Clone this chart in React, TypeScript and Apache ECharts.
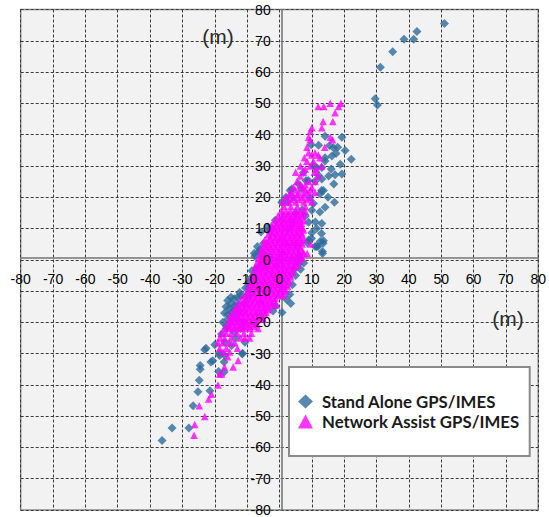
import React, { useEffect, useRef } from "react";
import * as echarts from "echarts";

const AXIS_MIN = -80;
const AXIS_MAX = 80;
const AXIS_STEP = 10;

const seriesNames = ["Stand Alone GPS/IMES", "Network Assist GPS/IMES"];

// Stand Alone GPS/IMES (x, y) in metres
const standAlone: [number, number][] = [
  [51, 75.5], [42.5, 73], [41.5, 70.5], [38.5, 70.5], [35, 66.5], [31.2, 61.5], [29.6, 51.5], [30.3, 49.5],
  [19.3, 39.2], [14.1, 39.5], [9.8, 36.8], [12.1, 36.6], [16.7, 35.8], [18, 36], [20.3, 34.9], [22.2, 32.1],
  [16.2, 33.2], [14.1, 31.6], [13.1, 29.5], [18.8, 30.5], [19.3, 27.4], [17.2, 27.2], [15.2, 26.8], [16.8, 24.2],
  [13.1, 25.8], [11, 25.1], [7.4, 27.9], [8.2, 25.3], [5.9, 24.2], [3.8, 22.6], [13.6, 22.1], [12.6, 21.1],
  [17, 18.4], [14.1, 16.8], [10, 15.8], [13.1, 11.6], [11.5, 10], [10, 8.6], [12.6, 5.8], [13.3, 2.6],
  [11, 4.2], [9, 6.3], [-1.3, 12.6], [-3.4, 9.5], [-6, 3.2], [-4.9, 5.3], [0.7, 18.4], [2, 20], [3.3, 22.1],
  [2.6, 18.4], [4.2, 20], [6.8, 22.6], [8.9, 25.3], [11.5, 29.5], [14.1, 32.6], [13, 22.1], [12.5, 15.3],
  [11.1, 12.1], [13, 8.4], [13.5, 5.3], [11.5, 4.2], [9.9, 6.8], [-5.7, 8.9], [-3.6, 10.5], [-2.1, 10],
  [-6.8, 4.2], [-7.8, 2.1], [-5.2, 1.1], [8.6, 5.4], [11.9, 4.2], [13.3, 2], [13.6, 6.1], [4.9, 4.7],
  [-6.4, 2.5], [-5.3, -1], [15.5, 36.5], [17.5, 34], [10.5, 30], [12, 27], [9.5, 20], [10.5, 18], [8, 14],
  [9, 12], [7, 16], [15, 20], [16, 29],
  [-36.3, -57.8], [-33.2, -53.8], [-28, -53.8], [-26.7, -46.7], [-25.2, -42.2], [-24.8, -38.5], [-24.5, -35],
  [-24.5, -33.8], [-21.5, -41.9], [-21.2, -32.7], [-23.1, -28.8], [-20, -27.2], [-18.8, -35.7], [-17.1, -35.9],
  [-17.1, -32.7], [-18.5, -30.6], [-16.9, -30.6], [-11.5, -30.1], [-17.9, -23.7], [-16.4, -21.1], [-15.9, -17.4],
  [-14.8, -16.9], [-13.8, -14.8], [-12.8, -14.2], [-14.3, -18.5], [-16.9, -26.4], [-14.8, -27.4], [-10.7, -26.4],
  [-12.3, -10.5], [-9.7, -7.4], [-7.6, -5.8], [-7.1, -2.6], [-7.6, 1.1], [-12.8, -16.9], [-22.7, -28.3],
  [-20.6, -32.3], [-18.6, -29.9], [-11.4, -29.9], [-9.4, -9], [-7.9, -5.4], [-4.8, -1.3], [0.8, -16.9],
  [-1.2, -14.8], [5.9, -1.3],
  [-16, -13], [-15, -12], [-14, -12.5], [-13, -12], [-12, -11.5], [-16.5, -15], [-15.5, -15.5], [-17, -17],
  [-16, -19], [-15, -20], [-17.5, -20], [-16.5, -22], [-14, -23], [-13, -19], [-11.5, -17], [-11, -14],
  [-10.5, -12], [-9.5, -11], [-11, -20], [-12, -22], [-13.5, -25], [-15, -14], [-14, -16], [-10.5, -9],
  [-8.5, -3.5], [-9, -6],
  [3.2, -11.1], [2.2, -12.7], [4, -8], [5, -5], [6.5, -3], [4.5, -3], [3.5, -14], [-2, -16.4], [6, 0.5], [7.5, -1],
  [0, 0], [2, 5], [-2, -5], [3, 10], [-4, -10], [1, 2], [-1, -2], [4, 12], [-6, -14], [5, 15],
];

// Network Assist GPS/IMES, rows of [y, x values]
const networkRows: [number, number[]][] = [
  [50, [15.7, 19]],
  [49, [12, 13.7, 18.3]],
  [47, [17.2]],
  [44.2, [13.5, 16.5]],
  [42.2, [10, 13.1]],
  [41, [9.5]],
  [39.2, [9, 15.7]],
  [38.4, [9.5, 16.4]],
  [36, [8.5, 14]],
  [34.2, [9, 11]],
  [33.5, [10, 12]],
  [32.6, [7.7, 12.5]],
  [31.5, [8.5, 10.5]],
  [30, [6.5, 9.5, 13]],
  [29, [8, 11.5]],
  [28, [5, 7.4, 10.8]],
  [26.8, [6.4, 12]],
  [25, [5.4, 9, 11]],
  [24, [6.5, 8]],
  [23.2, [4.3, 7, 10]],
  [22.3, [5, 8, 9.5]],
  [21.5, [3.5, 6, 8.5, 11]],
  [20.8, [3, 5.5, 7.5]],
  [20, [2, 4.5, 7, 9.5]],
  [19.3, [3.5, 6, 8.5]],
  [18.5, [1, 2.8, 5, 7.5, 10]],
  [17, [1.5, 3.5, 5.5, 8]],
  [15.5, [0.5, 2, 3.5, 5, 6.5, 8]],
  [14.7, [1.2, 2.8, 4.3, 5.8, 7.3]],
  [14, [-0.5, 1, 2.5, 4, 5.5, 7]],
  [13.2, [0.2, 1.8, 3.3, 4.8, 6.3]],
  [12.5, [-1.5, 0, 1.5, 3, 4.5, 6, 7.5]],
  [11.7, [-0.8, 0.8, 2.3, 3.8, 5.3, 6.8]],
  [11, [-2.5, -1, 0.5, 2, 3.5, 5, 6.5]],
  [10.2, [-1.8, -0.2, 1.3, 2.8, 4.3, 5.8, 7]],
  [9.5, [-3, -1.5, 0, 1.5, 3, 4.5, 6, 7.5]],
  [8.7, [-2.3, -0.8, 0.8, 2.3, 3.8, 5.3, 6.8]],
  [8, [-3.5, -2, -0.5, 1, 2.5, 4, 5.5, 7]],
  [7.2, [-2.8, -1.2, 0.3, 1.8, 3.3, 4.8, 6.3]],
  [6.5, [-4.5, -3, -1.5, 0, 1.5, 3, 4.5, 6, 7.5]],
  [5.7, [-3.8, -2.3, -0.8, 0.8, 2.3, 3.8, 5.3, 6.8]],
  [5, [-5, -3.5, -2, -0.5, 1, 2.5, 4, 5.5, 7, 9.6]],
  [4.2, [-4.3, -2.8, -1.3, 0.3, 1.8, 3.3, 4.8, 6.3]],
  [3.5, [-5.5, -4, -2.5, -1, 0.5, 2, 3.5, 5, 6.5]],
  [2.7, [-4.8, -3.3, -1.8, -0.3, 1.3, 2.8, 4.3, 5.8, 7.2]],
  [2, [-6, -4.5, -3, -1.5, 0, 1.5, 3, 4.5, 6, 7.5, 8.6]],
  [1.2, [-5.3, -3.8, -2.3, -0.8, 0.8, 2.3, 3.8, 5.3, 6.6]],
  [0.5, [-6.5, -5, -3.5, -2, -0.5, 1, 2.5, 4, 5.5, 7]],
  [-0.3, [-5.8, -4.3, -2.8, -1.3, 0.3, 1.8, 3.3, 4.8, 6.2]],
  [-1, [-7, -5.5, -4, -2.5, -1, 0.5, 2, 3.5, 5]],
  [-1.8, [-6.3, -4.8, -3.3, -1.8, -0.3, 1.3, 2.8, 4.3, 5.6]],
  [-2.5, [-7.5, -6, -4.5, -3, -1.5, 0, 1.5, 3, 4.5]],
  [-3.3, [-6.8, -5.3, -3.8, -2.3, -0.8, 0.8, 2.3, 3.8]],
  [-4, [-8, -6.5, -5, -3.5, -2, -0.5, 1, 2.5, 4]],
  [-4.8, [-7.3, -5.8, -4.3, -2.8, -1.3, 0.3, 1.8, 3.2]],
  [-5.5, [-8.5, -7, -5.5, -4, -2.5, -1, 0.5, 2, 3.5]],
  [-6.3, [-7.8, -6.3, -4.8, -3.3, -1.8, -0.3, 1.3, 2.6]],
  [-7, [-9, -7.5, -6, -4.5, -3, -1.5, 0, 1.5, 3]],
  [-7.8, [-8.3, -6.8, -5.3, -3.8, -2.3, -0.8, 0.8, 2.2]],
  [-8.5, [-9.5, -8, -6.5, -5, -3.5, -2, -0.5, 1, 2.5]],
  [-9.3, [-8.8, -7.3, -5.8, -4.3, -2.8, -1.3, 0.3, 1.6]],
  [-10, [-10, -8.5, -7, -5.5, -4, -2.5, -1, 0.5, 2]],
  [-10.8, [-9.3, -7.8, -6.3, -4.8, -3.3, -1.8, -0.3, 1.2]],
  [-11.5, [-11, -9.5, -8, -6.5, -5, -3.5, -2, -0.5, 1]],
  [-12.3, [-10.3, -8.8, -7.3, -5.8, -4.3, -2.8, -1.3]],
  [-13, [-12, -10.5, -9, -7.5, -6, -4.5, -3, -1.5]],
  [-13.8, [-11.3, -9.8, -8.3, -6.8, -5.3, -3.8, -2.3]],
  [-14.5, [-13, -11.5, -10, -8.5, -7, -5.5, -4, -2.5, -1]],
  [-15.3, [-12.3, -10.8, -9.3, -7.8, -6.3, -4.8, -3.2]],
  [-16, [-14, -12.5, -11, -9.5, -8, -6.5, -5, -3.5]],
  [-16.8, [-13.3, -11.8, -10.3, -8.8, -7.3, -5.8, -4.2]],
  [-17.5, [-15, -13.5, -12, -10.5, -9, -7.5, -6, -4.5]],
  [-18.3, [-14.3, -12.8, -11.3, -9.8, -8.3, -6.8, -5.3]],
  [-19, [-15.5, -14, -12.5, -11, -9.5, -8, -6.5, -5]],
  [-19.8, [-14.8, -13.3, -11.8, -10.3, -8.8, -7.3]],
  [-20.5, [-16, -14.5, -13, -11.5, -10, -8.5, -7]],
  [-21.3, [-15.3, -13.8, -12.3, -10.8, -9.3, -7.8]],
  [-22, [-17, -15.5, -14, -12.5, -11, -9, -6.6]],
  [-23.5, [-18, -16.5, -15, -13, -11, -8.7]],
  [-25, [-18.5, -17, -15, -12, -10.7, -9.2]],
  [-26.5, [-19, -17.5, -15.5, -13.8]],
  [-28.3, [-18.5, -16.4, -13]],
  [-29.5, [-17.5, -15.4]],
  [-31, [-16]],
  [-32.2, [-12.8]],
  [-34.3, [-17, -14.3]],
  [-36.5, [-18.5, -17.9]],
  [-40, [-19]],
  [-43, [-21]],
  [-44.5, [-21.9]],
  [-46.7, [-24.8]],
  [-50.1, [-23.1]],
  [-52.7, [-26.2]],
  [-56.1, [-26.4]],
];

const networkAssist: [number, number][] = networkRows.flatMap(([y, xs]) =>
  xs.map((x) => [x, y] as [number, number])
);

const BLUE = "#2d6b9b";
const MAGENTA = "#ff00ff";

const GRID_LEFT = 20.7;
const GRID_RIGHT = 6.3;
const GRID_TOP = 9.5;
const GRID_BOTTOM = 3;
const CHART_W = 549;
const CHART_H = 517;
const LABEL_FONT = "Liberation Sans";
const LABEL_SIZE = 14;

export default function App() {
  const ref = useRef<HTMLDivElement>(null);

  useEffect(() => {
    if (!ref.current) return;
    const chart = echarts.init(ref.current, null, { renderer: "svg" });
    const plotW = CHART_W - GRID_LEFT - GRID_RIGHT;
    const plotH = CHART_H - GRID_TOP - GRID_BOTTOM;
    const scale = {
      type: "value" as const,
      min: AXIS_MIN,
      max: AXIS_MAX,
      interval: AXIS_STEP,
      axisTick: { show: false },
    };
    // Lines and gridlines sit under the marks; tick labels sit over them.
    const lineAxis = {
      ...scale,
      z: 0,
      axisLine: { show: true, onZero: false, lineStyle: { color: "#767676", width: 1.6 } },
      axisLabel: { show: false },
      splitLine: { show: true, lineStyle: { color: "#3a3a3a", width: 1, type: [3, 2] } },
    };
    const labelAxis = (margin: number) => ({
      ...scale,
      z: 20,
      axisLine: { show: false, onZero: false },
      splitLine: { show: false },
      axisLabel: {
        margin,
        fontSize: LABEL_SIZE,
        color: "#000",
        fontFamily: LABEL_FONT,
      },
    });
    const mLabel = (x: number, y: number) => ({
      type: "text",
      x,
      y,
      z: 100,
      style: {
        text: "(m)",
        font: `21px "${LABEL_FONT}"`,
        fill: "#2b2b2b",
        align: "center",
        verticalAlign: "middle",
      },
    });
    chart.setOption({
      animation: false,
      backgroundColor: "#ffffff",
      grid: {
        left: GRID_LEFT,
        right: GRID_RIGHT,
        top: GRID_TOP,
        bottom: GRID_BOTTOM,
        show: true,
        backgroundColor: "#f2f2f2",
        borderColor: "#8c8c8c",
        borderWidth: 1.5,
      },
      xAxis: [
        { ...lineAxis, position: "bottom", offset: -plotH / 2 },
        { ...labelAxis(14), position: "bottom", offset: -plotH / 2 },
      ],
      yAxis: [
        { ...lineAxis, position: "left", offset: -plotW / 2 },
        { ...labelAxis(11), position: "left", offset: -plotW / 2 },
      ],
      legend: {
        orient: "vertical",
        left: 289,
        top: 367,
        padding: [26, 10, 26, 9],
        itemGap: 3,
        itemWidth: 15,
        itemHeight: 14,
        backgroundColor: "#ffffff",
        borderColor: "#8a8a8a",
        borderWidth: 2,
        data: [
          { name: seriesNames[0], icon: "diamond" },
          { name: seriesNames[1], icon: "triangle" },
        ],
        textStyle: {
          fontFamily: "Lato",
          fontWeight: "bold",
          fontSize: 16.8,
          color: "#1a1a1a",
          padding: [0, 0, 0, 4],
        },
      },
      graphic: [mLabel(218, 36), mLabel(508, 318)],
      series: [
        {
          name: seriesNames[0],
          type: "scatter",
          xAxisIndex: 0,
          yAxisIndex: 0,
          symbol: "diamond",
          symbolSize: 9,
          itemStyle: { color: BLUE },
          data: standAlone,
        },
        {
          name: seriesNames[1],
          type: "scatter",
          xAxisIndex: 0,
          yAxisIndex: 0,
          symbol: "triangle",
          symbolSize: 7.5,
          itemStyle: { color: MAGENTA },
          data: networkAssist,
        },
      ],
    });
    return () => chart.dispose();
  }, []);

  return (
    <div
      ref={ref}
      style={{ position: "absolute", left: 0, top: 0, width: CHART_W, height: CHART_H }}
    />
  );
}
